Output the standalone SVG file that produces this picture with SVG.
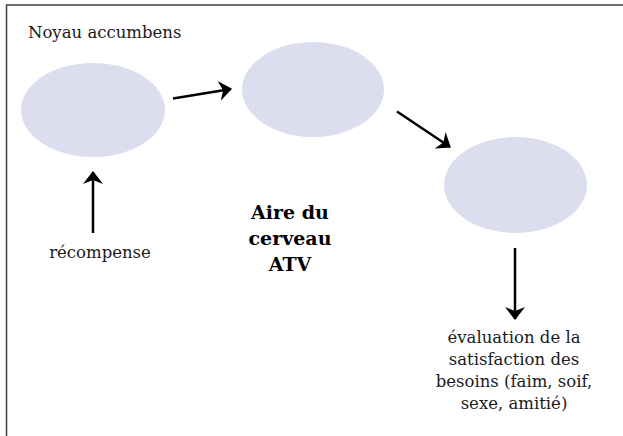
<svg xmlns="http://www.w3.org/2000/svg" width="623" height="436" viewBox="0 0 623 436">
<style>
.bg{fill:#ffffff}
.frame{fill:none;stroke:#404040;stroke-width:1.5}
.node{fill:#dcdef0}
.t{font-family:"DejaVu Serif","Liberation Serif",serif;font-size:16.5px;fill:#1a1a1a}
.b{font-family:"DejaVu Serif","Liberation Serif",serif;font-size:19px;font-weight:bold;fill:#000;text-anchor:middle}
.c{text-anchor:middle}
.arr{stroke:#000;stroke-width:2.5;fill:none;marker-end:url(#ah)}
</style>
<defs>
<marker id="ah" viewBox="0 0 13 20" refX="12" refY="10" markerWidth="13" markerHeight="20" markerUnits="userSpaceOnUse" orient="auto">
<path d="M0,0 L13,10 L0,20 L4,10 Z" fill="#000"/>
</marker>
</defs>
<rect class="bg" x="0" y="0" width="623" height="436"/>
<rect class="frame" x="6.5" y="5" width="640" height="460"/>
<g id="title"><text class="t" x="28" y="37.5">Noyau accumbens</text></g>
<g id="n1"><ellipse class="node" cx="93" cy="110" rx="72" ry="47"/></g>
<g id="n2"><ellipse class="node" cx="313" cy="89.5" rx="71" ry="47.5"/></g>
<g id="n3"><ellipse class="node" cx="515.5" cy="185" rx="71.5" ry="48"/></g>
<g id="recompense"><text class="t c" x="100" y="258">récompense</text></g>
<g id="atv"><text class="b" x="290" y="219">Aire du</text><text class="b" x="290" y="245">cerveau</text><text class="b" x="290" y="271">ATV</text></g>
<g id="evaluation"><text class="t c" x="514" y="343">évaluation de la</text><text class="t c" x="514" y="365">satisfaction des</text><text class="t c" x="514" y="387">besoins (faim, soif,</text><text class="t c" x="514" y="409">sexe, amitié)</text></g>
<g id="connectors">
<line class="arr" x1="173" y1="98.5" x2="231" y2="89"/>
<line class="arr" x1="397" y1="111.5" x2="450" y2="147"/>
<line class="arr" x1="93" y1="233" x2="93" y2="172"/>
<line class="arr" x1="515" y1="248" x2="515" y2="319"/>
</g>
</svg>
